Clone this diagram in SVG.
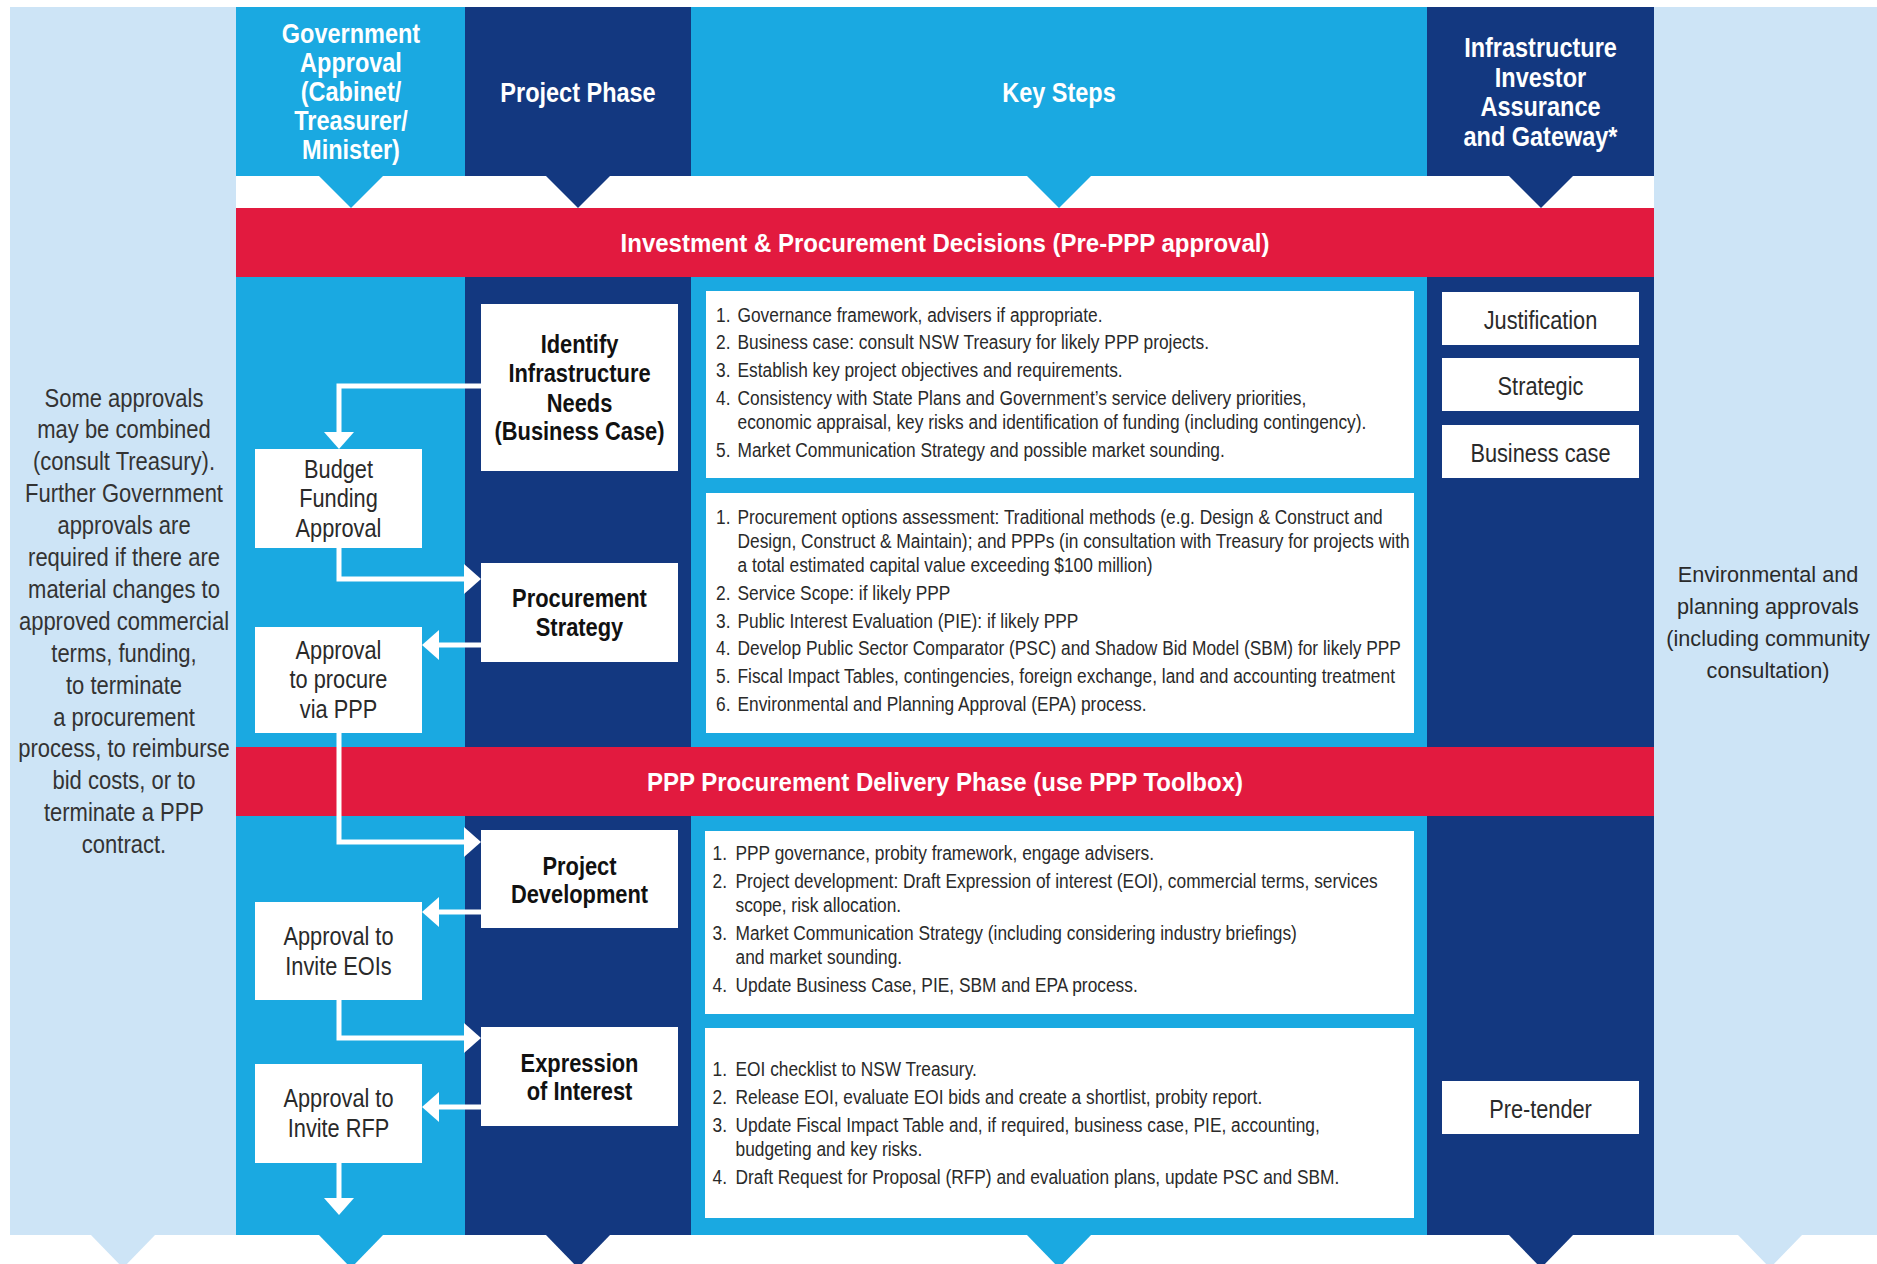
<svg xmlns="http://www.w3.org/2000/svg" width="1877" height="1264" viewBox="0 0 1877 1264">
<style>
text{font-family:"Liberation Sans",Arial,Helvetica,sans-serif}
.hd{font-weight:bold;font-size:27px;fill:#fff;text-anchor:middle}
.band{font-weight:bold;font-size:26.5px;fill:#fff;text-anchor:middle}
.pb{font-weight:bold;font-size:25px;fill:#111;text-anchor:middle}
.gb{font-size:25px;fill:#2a2a2a;text-anchor:middle}
.side{font-size:25px;fill:#333;text-anchor:middle}
.rside{font-size:22px;fill:#2a2a2a;text-anchor:middle}
.ks{font-size:21px;fill:#2a2a2a}
.box{fill:#fff}
.lb{fill:#CDE4F6}.mb{fill:#1AA9E1}.db{fill:#133880}.red{fill:#E21A3F}
.conn{fill:none;stroke:#fff;stroke-width:5}
</style>
<defs>
<marker id="ah" markerUnits="userSpaceOnUse" markerWidth="18" markerHeight="30" refX="7" refY="15" orient="auto" viewBox="0 0 18 30">
<path d="M0,0 L17,15 L0,30 Z" fill="#fff"/>
</marker>
</defs>
<rect width="1877" height="1264" fill="#fff"/>
<g id="background">
<rect class="lb" x="10" y="7" width="226" height="1228"/>
<rect class="mb" x="236" y="7" width="229" height="1228"/>
<rect class="db" x="465" y="7" width="226" height="1228"/>
<rect class="mb" x="691" y="7" width="736" height="1228"/>
<rect class="db" x="1427" y="7" width="227" height="1228"/>
<rect class="lb" x="1654" y="7" width="223" height="1228"/>
<rect fill="#fff" x="236" y="176" width="1418" height="32"/>
<polygon class="mb" points="318,175 384,175 351,208"/>
<polygon class="db" points="545,175 611,175 578,208"/>
<polygon class="mb" points="1026,175 1092,175 1059,208"/>
<polygon class="db" points="1508,175 1574,175 1541,208"/>
<polygon class="lb" points="90,1234 156,1234 123,1268"/>
<polygon class="mb" points="318,1234 384,1234 351,1268"/>
<polygon class="db" points="545,1234 611,1234 578,1268"/>
<polygon class="mb" points="1026,1234 1092,1234 1059,1268"/>
<polygon class="db" points="1508,1234 1574,1234 1541,1268"/>
<polygon class="lb" points="1737,1234 1803,1234 1770,1268"/>
</g>
<g id="headers">
<text class="hd" transform="translate(351 0) scale(0.87 1)"><tspan x="0" y="43">Government</tspan><tspan x="0" y="72.5">Approval</tspan><tspan x="0" y="101.5">(Cabinet/</tspan><tspan x="0" y="130.5">Treasurer/</tspan><tspan x="0" y="159.5">Minister)</tspan></text>
<text class="hd" transform="translate(578 0) scale(0.87 1)" x="0" y="101.7">Project Phase</text>
<text class="hd" transform="translate(1059 0) scale(0.87 1)" x="0" y="101.7">Key Steps</text>
<text class="hd" transform="translate(1540.5 0) scale(0.87 1)"><tspan x="0" y="57.3">Infrastructure</tspan><tspan x="0" y="87">Investor</tspan><tspan x="0" y="116.5">Assurance</tspan><tspan x="0" y="145.7">and Gateway*</tspan></text>
</g>
<g id="band1">
<rect class="red" x="236" y="208" width="1418" height="69"/>
<text class="band" transform="translate(945 0) scale(0.906 1)" x="0" y="252">Investment &amp; Procurement Decisions (Pre-PPP approval)</text>
</g>
<g id="band2">
<rect class="red" x="236" y="747" width="1418" height="69"/>
<text class="band" transform="translate(945 0) scale(0.906 1)" x="0" y="791">PPP Procurement Delivery Phase (use PPP Toolbox)</text>
</g>
<g id="side-left">
<text class="side" transform="translate(124 0) scale(0.88 1)"><tspan x="0" y="406.6">Some approvals</tspan><tspan x="0" y="438.5">may be combined</tspan><tspan x="0" y="470.4">(consult Treasury).</tspan><tspan x="0" y="502.3">Further Government</tspan><tspan x="0" y="534.2">approvals are</tspan><tspan x="0" y="566.1">required if there are</tspan><tspan x="0" y="598">material changes to</tspan><tspan x="0" y="629.9">approved commercial</tspan><tspan x="0" y="661.8">terms, funding,</tspan><tspan x="0" y="693.7">to terminate</tspan><tspan x="0" y="725.6">a procurement</tspan><tspan x="0" y="757.5">process, to reimburse</tspan><tspan x="0" y="789.4">bid costs, or to</tspan><tspan x="0" y="821.3">terminate a PPP</tspan><tspan x="0" y="853.2">contract.</tspan></text>
</g>
<g id="side-right">
<text class="rside" transform="translate(1768 0) scale(0.985 1)"><tspan x="0" y="581.7">Environmental and</tspan><tspan x="0" y="614">planning approvals</tspan><tspan x="0" y="646.5">(including community</tspan><tspan x="0" y="678.5">consultation)</tspan></text>
</g>
<g id="connectors">
<path class="conn" d="M481,386 H339 V439" marker-end="url(#ah)"/>
<path class="conn" d="M339,548 V579 H471" marker-end="url(#ah)"/>
<path class="conn" d="M481,645 H432" marker-end="url(#ah)"/>
<path class="conn" d="M339,733 V842 H471" marker-end="url(#ah)"/>
<path class="conn" d="M481,912 H432" marker-end="url(#ah)"/>
<path class="conn" d="M339,1000 V1038 H471" marker-end="url(#ah)"/>
<path class="conn" d="M481,1107 H432" marker-end="url(#ah)"/>
<path class="conn" d="M339,1163 V1205" marker-end="url(#ah)"/>
</g>
<g id="node-identify">
<rect class="box" x="481" y="304" width="197" height="167"/>
<text class="pb" transform="translate(579.5 0) scale(0.875 1)"><tspan x="0" y="352.7">Identify</tspan><tspan x="0" y="382.5">Infrastructure</tspan><tspan x="0" y="411.7">Needs</tspan><tspan x="0" y="440.5">(Business Case)</tspan></text>
</g>
<g id="node-procurement-strategy">
<rect class="box" x="481" y="563" width="197" height="99"/>
<text class="pb" transform="translate(579.5 0) scale(0.875 1)"><tspan x="0" y="607">Procurement</tspan><tspan x="0" y="636">Strategy</tspan></text>
</g>
<g id="node-project-development">
<rect class="box" x="481" y="830" width="197" height="98"/>
<text class="pb" transform="translate(579.5 0) scale(0.875 1)"><tspan x="0" y="875">Project</tspan><tspan x="0" y="902.7">Development</tspan></text>
</g>
<g id="node-eoi">
<rect class="box" x="481" y="1027" width="197" height="99"/>
<text class="pb" transform="translate(579.5 0) scale(0.875 1)"><tspan x="0" y="1072">Expression</tspan><tspan x="0" y="1100.5">of Interest</tspan></text>
</g>
<g id="node-budget">
<rect class="box" x="255" y="449" width="167" height="99"/>
<text class="gb" transform="translate(338.5 0) scale(0.87 1)"><tspan x="0" y="478">Budget</tspan><tspan x="0" y="507.5">Funding</tspan><tspan x="0" y="537">Approval</tspan></text>
</g>
<g id="node-approval-ppp">
<rect class="box" x="255" y="627" width="167" height="106"/>
<text class="gb" transform="translate(338.5 0) scale(0.87 1)"><tspan x="0" y="659.3">Approval</tspan><tspan x="0" y="688.5">to procure</tspan><tspan x="0" y="718.3">via PPP</tspan></text>
</g>
<g id="node-approval-eois">
<rect class="box" x="255" y="902" width="167" height="98"/>
<text class="gb" transform="translate(338.5 0) scale(0.87 1)"><tspan x="0" y="945.5">Approval to</tspan><tspan x="0" y="975">Invite EOIs</tspan></text>
</g>
<g id="node-approval-rfp">
<rect class="box" x="255" y="1064" width="167" height="99"/>
<text class="gb" transform="translate(338.5 0) scale(0.87 1)"><tspan x="0" y="1106.7">Approval to</tspan><tspan x="0" y="1136.7">Invite RFP</tspan></text>
</g>
<g id="steps-1">
<rect class="box" x="706" y="291" width="708" height="187"/>
<text class="ks" transform="translate(716 0) scale(0.825 1)"><tspan x="0" y="322">1.</tspan><tspan x="0" y="349.5">2.</tspan><tspan x="0" y="377.5">3.</tspan><tspan x="0" y="405.5">4.</tspan><tspan x="0" y="456.7">5.</tspan></text>
<text class="ks" transform="translate(737.5 0) scale(0.825 1)"><tspan x="0" y="322">Governance framework, advisers if appropriate.</tspan><tspan x="0" y="349.5">Business case: consult NSW Treasury for likely PPP projects.</tspan><tspan x="0" y="377.5">Establish key project objectives and requirements.</tspan><tspan x="0" y="405.5">Consistency with State Plans and Government’s service delivery priorities,</tspan><tspan x="0" y="429">economic appraisal, key risks and identification of funding (including contingency).</tspan><tspan x="0" y="456.7">Market Communication Strategy and possible market sounding.</tspan></text>
</g>
<g id="steps-2">
<rect class="box" x="706" y="493" width="708" height="240"/>
<text class="ks" transform="translate(716 0) scale(0.825 1)"><tspan x="0" y="524.3">1.</tspan><tspan x="0" y="600">2.</tspan><tspan x="0" y="627.7">3.</tspan><tspan x="0" y="655">4.</tspan><tspan x="0" y="683">5.</tspan><tspan x="0" y="711">6.</tspan></text>
<text class="ks" transform="translate(737.5 0) scale(0.825 1)"><tspan x="0" y="524.3">Procurement options assessment: Traditional methods (e.g. Design &amp; Construct and</tspan><tspan x="0" y="548.3">Design, Construct &amp; Maintain); and PPPs (in consultation with Treasury for projects with</tspan><tspan x="0" y="571.7">a total estimated capital value exceeding $100 million)</tspan><tspan x="0" y="600">Service Scope: if likely PPP</tspan><tspan x="0" y="627.7">Public Interest Evaluation (PIE): if likely PPP</tspan><tspan x="0" y="655">Develop Public Sector Comparator (PSC) and Shadow Bid Model (SBM) for likely PPP</tspan><tspan x="0" y="683">Fiscal Impact Tables, contingencies, foreign exchange, land and accounting treatment</tspan><tspan x="0" y="711">Environmental and Planning Approval (EPA) process.</tspan></text>
</g>
<g id="steps-3">
<rect class="box" x="705" y="831" width="709" height="183"/>
<text class="ks" transform="translate(712.5 0) scale(0.825 1)"><tspan x="0" y="860">1.</tspan><tspan x="0" y="888">2.</tspan><tspan x="0" y="940">3.</tspan><tspan x="0" y="992">4.</tspan></text>
<text class="ks" transform="translate(735.5 0) scale(0.825 1)"><tspan x="0" y="860">PPP governance, probity framework, engage advisers.</tspan><tspan x="0" y="888">Project development: Draft Expression of interest (EOI), commercial terms, services</tspan><tspan x="0" y="912">scope, risk allocation.</tspan><tspan x="0" y="940">Market Communication Strategy (including considering industry briefings)</tspan><tspan x="0" y="964">and market sounding.</tspan><tspan x="0" y="992">Update Business Case, PIE, SBM and EPA process.</tspan></text>
</g>
<g id="steps-4">
<rect class="box" x="705" y="1028" width="709" height="190"/>
<text class="ks" transform="translate(712.5 0) scale(0.825 1)"><tspan x="0" y="1076">1.</tspan><tspan x="0" y="1104.5">2.</tspan><tspan x="0" y="1132.3">3.</tspan><tspan x="0" y="1184.5">4.</tspan></text>
<text class="ks" transform="translate(735.5 0) scale(0.825 1)"><tspan x="0" y="1076">EOI checklist to NSW Treasury.</tspan><tspan x="0" y="1104.5">Release EOI, evaluate EOI bids and create a shortlist, probity report.</tspan><tspan x="0" y="1132.3">Update Fiscal Impact Table and, if required, business case, PIE, accounting,</tspan><tspan x="0" y="1156">budgeting and key risks.</tspan><tspan x="0" y="1184.5">Draft Request for Proposal (RFP) and evaluation plans, update PSC and SBM.</tspan></text>
</g>
<g id="gateway-justification">
<rect class="box" x="1442" y="292" width="197" height="53"/>
<text class="gb" transform="translate(1540.5 0) scale(0.87 1)" x="0" y="328.7">Justification</text>
</g>
<g id="gateway-strategic">
<rect class="box" x="1442" y="358" width="197" height="53"/>
<text class="gb" transform="translate(1540.5 0) scale(0.87 1)" x="0" y="395">Strategic</text>
</g>
<g id="gateway-business-case">
<rect class="box" x="1442" y="425" width="197" height="53"/>
<text class="gb" transform="translate(1540.5 0) scale(0.87 1)" x="0" y="461.7">Business case</text>
</g>
<g id="gateway-pre-tender">
<rect class="box" x="1442" y="1081" width="197" height="53"/>
<text class="gb" transform="translate(1540.5 0) scale(0.87 1)" x="0" y="1118.3">Pre-tender</text>
</g>
</svg>
